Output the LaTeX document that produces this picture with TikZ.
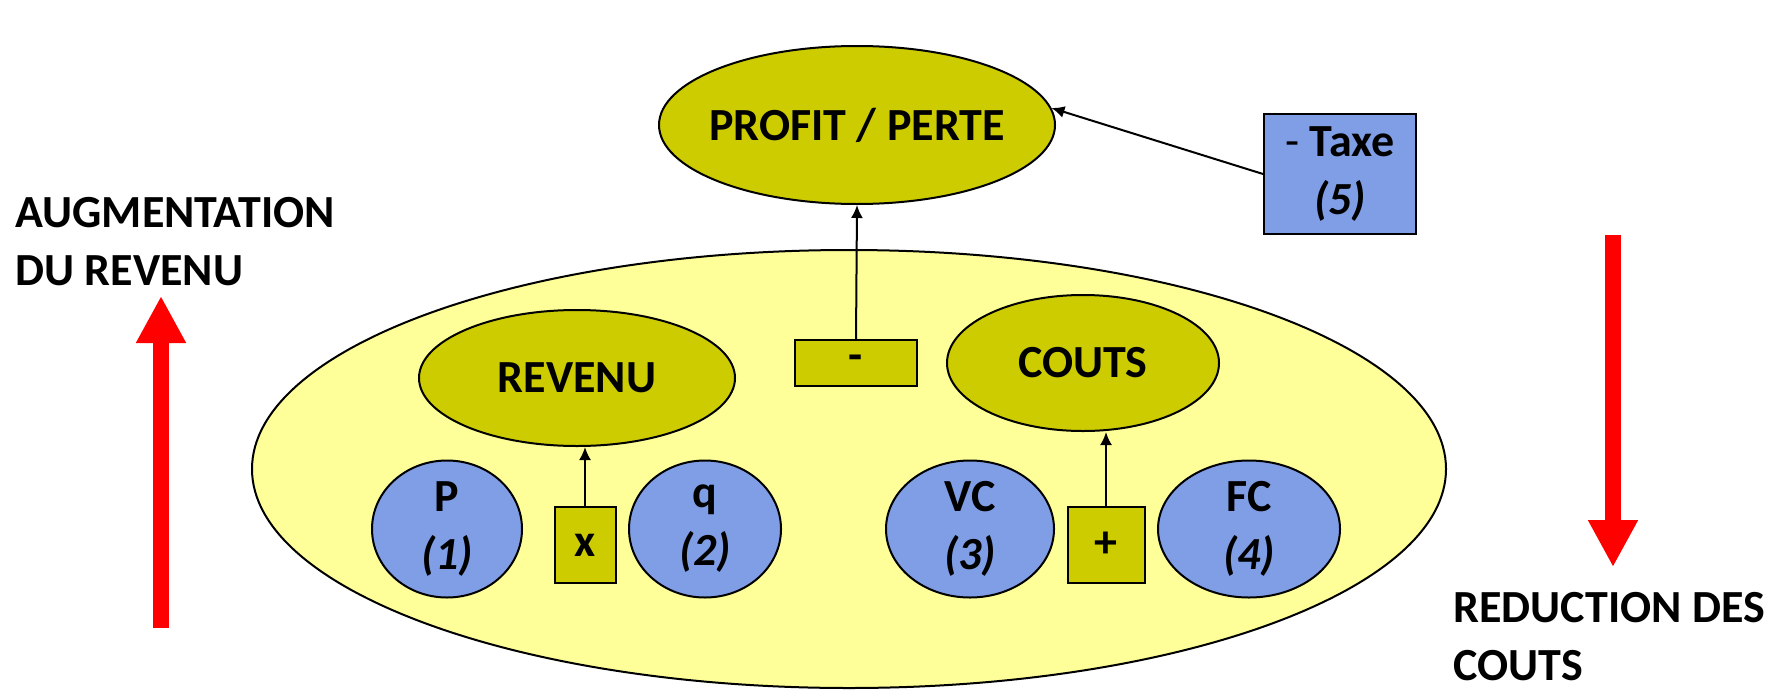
\documentclass[tikz,border=0pt]{standalone}
\usepackage{fontspec}
\setmainfont{Carlito}
\usetikzlibrary{shapes.geometric,arrows.meta}
\definecolor{olive}{HTML}{CCCC00}
\definecolor{paleyellow}{HTML}{FFFF99}
\definecolor{softblue}{HTML}{7F9EE6}
\definecolor{brightred}{HTML}{FF0000}
\begin{document}
\begin{tikzpicture}[x=0.5pt,y=-0.5pt,
  every node/.style={font=\fontsize{23}{29}\selectfont\bfseries, inner sep=0pt},
  every label/.style={align=center},
  oliveell/.style={ellipse, draw, line width=1pt, fill=olive},
  blueell/.style={ellipse, draw, line width=1pt, fill=softblue,
    minimum height=68.5pt},
  opbox/.style={rectangle, draw, line width=1pt, fill=olive},
  link/.style={line width=1pt, -{Latex[length=6.5pt,width=6pt]}},
  bigarrow/.style={brightred, line width=8pt, -{Triangle[length=23.5pt,width=23.5pt]}}]
\useasboundingbox (0,0) rectangle (1791,696);

% result of the whole computation
\node[oliveell, minimum width=198pt, minimum height=79pt,
  label=center:PROFIT / PERTE] (profit) at (857,125) {};
\node[rectangle, draw, line width=1pt, fill=softblue, minimum width=76pt, minimum height=60pt,
  align=center] (taxe) at (1340,174) {{\mdseries -} Taxe\\\textit{(5)}};

% enclosing area with revenue and costs
\node[ellipse, draw, line width=1pt, fill=paleyellow, minimum width=597pt, minimum height=219pt] (zone) at (849,469) {};
\node[oliveell, minimum width=158pt, minimum height=68pt] (revenu) at (577,378) {REVENU};
\node[oliveell, minimum width=136pt, minimum height=68pt] (couts) at (1083,363) {COUTS};
\node[opbox, minimum width=61pt, minimum height=23pt] (moins) at (856,363) {-};

% inputs
\node[blueell, minimum width=75pt, label=center:P\\\textit{(1)}] (p) at (447,529) {};
\node[opbox, minimum width=30.5pt, minimum height=38pt] (fois) at (585,545) {x};
\node[blueell, minimum width=76pt, label=center:q\\\textit{(2)}] (q) at (705,529) {};
\node[blueell, minimum width=84pt, label=center:VC\\\textit{(3)}] (vc) at (970,529) {};
\node[opbox, minimum width=38.5pt, minimum height=38pt] (plus) at (1106,545) {+};
\node[blueell, minimum width=91pt, label=center:FC\\\textit{(4)}] (fc) at (1249,529) {};

% connectors
\draw[link] (moins.north) -- (profit.south);
\draw[link] (taxe.west) -- (profit.5);
\draw[link] (fois.north) -- (fois.north |- revenu.south);
\draw[link] (plus.north) -- (plus.north |- couts.south);

% side annotations
\node[anchor=north west, align=left] (augm) at (15,197) {AUGMENTATION\\DU REVENU};
\draw[bigarrow] (161,628) -- (161,296);
\node[anchor=north west, align=left] (reduc) at (1453,592) {REDUCTION DES\\COUTS};
\draw[bigarrow] (1613,235) -- (1613,567);
\end{tikzpicture}
\end{document}
